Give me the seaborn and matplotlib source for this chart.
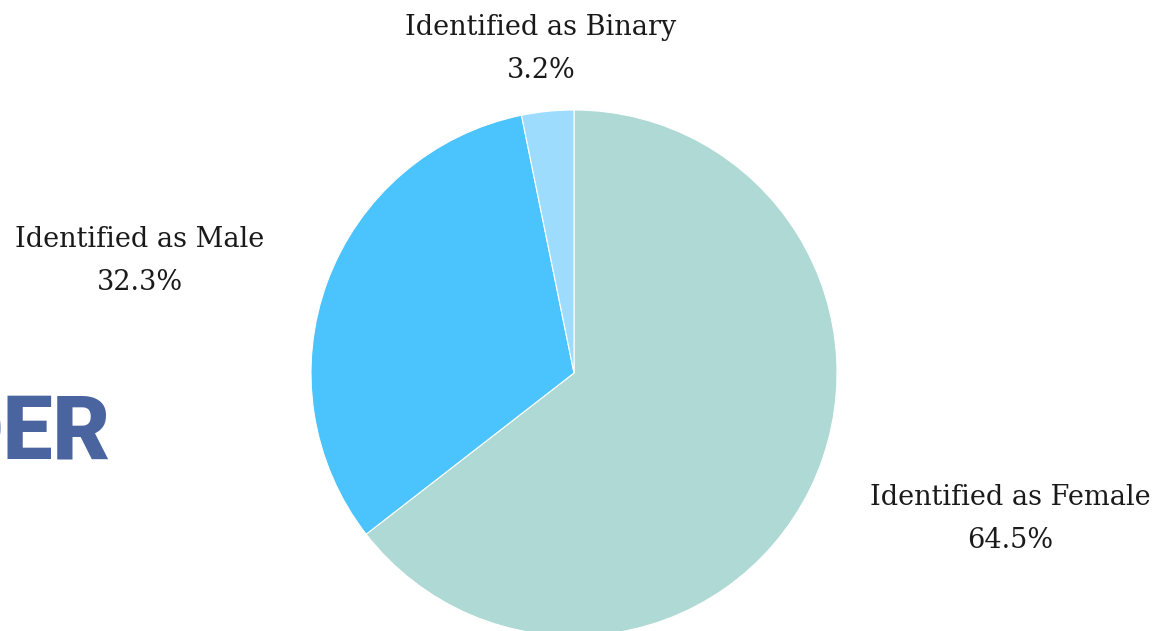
import matplotlib
matplotlib.use("Agg")
import matplotlib.pyplot as plt
import seaborn as sns

categories = ["Identified as Female", "Identified as Male", "Identified as Binary"]
values = [64.5, 32.3, 3.2]
colors = ["#aed9d4", "#4bc3fc", "#9edcfd"]

sns.set_theme(style="white")
plt.rcParams["font.family"] = ["DejaVu Serif"]

W, H = 1171, 631
fig = plt.figure(figsize=(W / 100, H / 100), dpi=100)
fig.patch.set_facecolor("white")

cx, cy, r = 574, 373, 263
ax = fig.add_axes([(cx - r) / W, (H - cy - r) / H, 2 * r / W, 2 * r / H])
ax.pie(values, colors=colors, startangle=90, counterclock=False, radius=1,
       wedgeprops=dict(edgecolor="white", linewidth=0.8))
ax.set_xlim(-1, 1)
ax.set_ylim(-1, 1)
ax.set_aspect("equal")
ax.axis("off")

label_pos = [(1010, 519), (140, 261), (541, 49)]
for cat, v, (px, py) in zip(categories, values, label_pos):
    fig.text(px / W, (H - py) / H, f"{cat}\n{v}%", ha="center", va="center",
             fontsize=19.5, color="#1a1a1a", linespacing=1.72)

fig.text(110 / W, (H - 434) / H, "DER", ha="right", va="center",
         fontsize=64, fontweight="black", family="Roboto", color="#4a64a0")

fig.savefig("out.png", dpi=100)
